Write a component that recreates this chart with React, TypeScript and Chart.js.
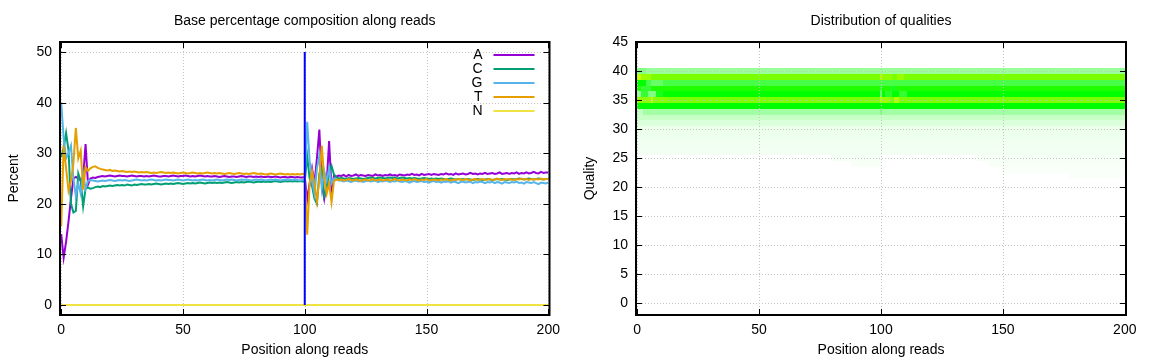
import React, { useEffect, useRef } from 'react';
import { Chart, registerables } from 'chart.js';

Chart.register(...registerables);

// ---------------- data ----------------
const POSITIONS = Array.from({ length: 201 }, (_, i) => i);
const X_TICKS = [0, 50, 100, 150, 200];
const PCT_TICKS = [0, 10, 20, 30, 40, 50];
const QUAL_TICKS = [0, 5, 10, 15, 20, 25, 30, 35, 40, 45];

const LEFT_TITLE = 'Base percentage composition along reads';
const RIGHT_TITLE = 'Distribution of qualities';
const X_LABEL = 'Position along reads';
const LEFT_Y_LABEL = 'Percent';
const RIGHT_Y_LABEL = 'Quality';

const BASES = ['A', 'C', 'G', 'T', 'N'];
const BASE_COLORS = ['#9400d3', '#009e73', '#56b4e9', '#e69f00', '#f0e442'];
const SPLIT_POS = 100;
const SPLIT_RANGE = [0, 50];

const A_PCT = [
  14, 9.3, 12.5, 16.5, 21, 25, 25.3, 25, 24.6, 25.2, 31.8, 23.8, 25, 25.2, 25.1,
  25.3, 25.4, 25.5, 25.4, 25.5, 25.6, 25.5, 25.4, 25.5, 25.6,
  25.5, 25.5, 25.4, 25.5, 25.6, 25.5, 25.4, 25.5, 25.5, 25.4,
  25.5, 25.4, 25.5, 25.6, 25.5, 25.4, 25.4, 25.5, 25.5, 25.4,
  25.5, 25.6, 25.5, 25.4, 25.5, 25.5, 25.6, 25.5, 25.4, 25.5,
  25.4, 25.5, 25.6, 25.5, 25.4, 25.5, 25.4, 25.4, 25.5, 25.4,
  25.3, 25.4, 25.5, 25.4, 25.3, 25.4, 25.4, 25.3, 25.4, 25.5,
  25.4, 25.3, 25.4, 25.4, 25.3, 25.4, 25.3, 25.4, 25.3, 25.3,
  25.4, 25.3, 25.3, 25.4, 25.3, 25.2, 25.3, 25.3, 25.2, 25.3,
  25.3, 25.2, 25.3, 25.2, 25.2,
  25.3, 20.8, 24, 27, 24, 29, 34.7, 24, 21, 24, 32.4, 23, 25.5, 25.4, 25.6,
  25.5, 25.7, 25.4, 25.7, 25.5, 25.6, 25.8, 25.5, 25.7, 25.6,
  25.5, 25.7, 25.6, 25.5, 25.8, 25.6, 25.7, 25.5, 25.7, 25.6,
  25.8, 25.6, 25.7, 25.5, 25.8, 25.7, 25.6, 25.8, 25.7, 25.9,
  25.7, 25.8, 25.6, 25.9, 25.7, 25.8, 25.9, 25.7, 25.9, 25.8,
  25.7, 25.9, 25.8, 26.0, 25.8, 25.9, 25.7, 26.0, 25.8, 25.9,
  26.0, 25.8, 25.9, 26.1, 25.9, 26.0, 25.8, 26.0, 25.9, 26.1,
  25.9, 26.0, 26.1, 25.9, 26.0, 26.2, 25.9, 26.0, 26.1, 25.9,
  26.1, 26.0, 26.2, 25.9, 26.1, 26.0, 26.2, 26.0, 26.1, 26.3,
  26.1, 26.0, 26.3, 26.1, 26.2, 26.2,
];

const C_PCT = [
  29.2, 31, 34, 30.5, 20, 18.3, 18.6, 26, 24.5, 19.5, 23, 23.2, 23, 23.1, 23.3,
  23.4, 23.3, 23.5, 23.4, 23.5, 23.6, 23.5, 23.6, 23.7, 23.6,
  23.7, 23.6, 23.8, 23.7, 23.6, 23.8, 23.7, 23.8, 23.9, 23.8,
  23.8, 23.9, 23.8, 23.9, 24.0, 23.9, 23.8, 23.9, 24.0, 23.9,
  24.0, 23.9, 24.0, 24.1, 24.0, 23.9, 24.0, 24.1, 24.0, 24.1,
  24.0, 24.1, 24.2, 24.1, 24.0, 24.1, 24.2, 24.1, 24.2, 24.1,
  24.2, 24.1, 24.2, 24.3, 24.2, 24.1, 24.2, 24.3, 24.2, 24.3,
  24.2, 24.3, 24.4, 24.3, 24.2, 24.3, 24.4, 24.3, 24.4, 24.3,
  24.4, 24.3, 24.4, 24.5, 24.4, 24.3, 24.4, 24.5, 24.4, 24.5,
  24.4, 24.5, 24.4, 24.5, 24.4,
  24.4, 29.4, 25, 23.5, 21, 20, 26, 27, 21.5, 23, 26, 27.5, 25.8, 25.2, 25,
  25.1, 25.0, 24.9, 25.1, 25.0, 24.9, 25.0, 25.1, 25.0, 24.9,
  25.0, 25.1, 25.2, 25.1, 25.0, 25.1, 25.2, 25.1, 25.0, 25.1,
  25.2, 25.1, 25.2, 25.0, 25.1, 25.2, 25.1, 25.0, 25.1, 25.0,
  25.1, 25.0, 24.9, 25.0, 25.1, 25.0, 24.9, 25.0, 24.9, 25.0,
  24.9, 25.0, 24.9, 24.8, 24.9, 25.0, 24.9, 24.8, 24.9, 24.8,
  24.9, 24.8, 24.9, 24.8, 24.7, 24.8, 24.9, 24.8, 24.7, 24.8,
  24.9, 24.8, 24.7, 24.8, 24.9, 24.8, 24.9, 24.8, 24.7, 24.8,
  24.9, 24.8, 24.9, 25.0, 24.9, 24.8, 24.9, 25.0, 24.9, 24.8,
  24.9, 25.0, 24.9, 24.8, 24.9, 24.9,
];

const G_PCT = [
  40, 33, 29, 30, 31.5, 25, 21.5, 24, 22, 26, 23, 24.5, 24.7, 24.6, 24.5,
  24.4, 24.5, 24.6, 24.5, 24.6, 24.7, 24.6, 24.5, 24.6, 24.7,
  24.6, 24.7, 24.6, 24.5, 24.6, 24.7, 24.8, 24.7, 24.6, 24.7,
  24.6, 24.7, 24.8, 24.7, 24.6, 24.7, 24.6, 24.7, 24.8, 24.7,
  24.7, 24.6, 24.7, 24.8, 24.7, 24.6, 24.7, 24.8, 24.7, 24.6,
  24.7, 24.6, 24.7, 24.8, 24.7, 24.6, 24.7, 24.6, 24.7, 24.8,
  24.7, 24.6, 24.7, 24.8, 24.7, 24.8, 24.7, 24.6, 24.7, 24.8,
  24.7, 24.8, 24.7, 24.6, 24.7, 24.8, 24.7, 24.8, 24.7, 24.6,
  24.7, 24.8, 24.7, 24.8, 24.7, 24.6, 24.7, 24.8, 24.7, 24.8,
  24.7, 24.8, 24.7, 24.6, 24.7,
  24.7, 36.2, 28.5, 24.5, 22, 27, 29.5, 23, 26.5, 24.5, 27, 24, 25, 24.8, 24.6,
  24.6, 24.4, 24.6, 24.5, 24.3, 24.5, 24.6, 24.4, 24.5, 24.3,
  24.5, 24.6, 24.4, 24.5, 24.6, 24.3, 24.5, 24.4, 24.6, 24.5,
  24.3, 24.5, 24.4, 24.6, 24.4, 24.3, 24.5, 24.4, 24.2, 24.4,
  24.5, 24.3, 24.4, 24.5, 24.3, 24.4, 24.2, 24.4, 24.5, 24.3,
  24.4, 24.2, 24.4, 24.3, 24.5, 24.2, 24.4, 24.3, 24.1, 24.3,
  24.4, 24.2, 24.3, 24.4, 24.1, 24.3, 24.2, 24.4, 24.3, 24.1,
  24.3, 24.2, 24.4, 24.1, 24.3, 24.2, 24.0, 24.3, 24.2, 24.1,
  24.3, 24.2, 24.4, 24.1, 24.2, 24.0, 24.3, 24.2, 24.1, 24.3,
  24.1, 23.9, 24.2, 24.1, 24.0, 24.2,
];

const T_PCT = [
  15.5, 31.5, 27, 22.6, 24.5, 28, 35, 29, 30.5, 22.8, 27.2, 26.5, 27, 27.3, 27.4,
  27.1, 26.9, 26.8, 26.7, 26.6, 26.7, 26.5, 26.6, 26.5, 26.4,
  26.5, 26.4, 26.3, 26.4, 26.3, 26.4, 26.3, 26.2, 26.3, 26.2,
  26.3, 26.2, 26.1, 26.2, 26.1, 26.2, 26.3, 26.2, 26.1, 26.2,
  26.1, 26.2, 26.1, 26.0, 26.1, 26.2, 26.1, 26.0, 26.1, 26.2,
  26.1, 26.0, 26.1, 26.0, 26.1, 26.2, 26.1, 26.0, 26.1, 26.0,
  26.1, 26.0, 25.9, 26.0, 26.1, 26.0, 25.9, 26.0, 26.1, 26.0,
  25.9, 26.0, 25.9, 26.0, 26.1, 26.0, 25.9, 26.0, 25.9, 25.8,
  25.9, 26.0, 25.9, 25.8, 25.9, 26.0, 25.9, 25.8, 25.9, 25.8,
  25.9, 25.8, 25.9, 25.8, 25.9,
  26, 13.9, 24, 26.5, 24, 20.5, 25, 31.5, 25, 22, 24, 20.3, 24.5, 24.8, 24.7,
  24.8, 24.6, 24.7, 24.9, 24.7, 24.6, 24.8, 24.7, 24.5, 24.7,
  24.8, 24.6, 24.7, 24.9, 24.6, 24.7, 24.8, 24.6, 24.7, 24.8,
  24.6, 24.7, 24.9, 24.7, 24.6, 24.8, 24.7, 24.6, 24.8, 24.7,
  24.9, 24.7, 24.6, 24.8, 24.7, 24.9, 24.6, 24.7, 24.8, 24.7,
  24.6, 24.8, 24.7, 24.9, 24.7, 24.6, 24.8, 24.7, 24.9, 24.8,
  24.7, 24.9, 24.8, 24.6, 24.8, 24.9, 24.7, 24.8, 24.9, 24.7,
  24.8, 24.9, 24.7, 24.8, 25.0, 24.8, 24.7, 24.9, 24.8, 24.9,
  24.8, 24.7, 24.9, 24.8, 25.0, 24.8, 24.9, 24.7, 24.9, 24.8,
  24.9, 24.8, 25.0, 24.8, 24.9, 24.9,
];

const N_PCT = [
  0, 0, 0, 0, 0, 0, 0, 0, 0, 0, 0, 0, 0, 0, 0, 0, 0, 0, 0, 0,
  0, 0, 0, 0, 0, 0, 0, 0, 0, 0, 0, 0, 0, 0, 0, 0, 0, 0, 0, 0,
  0, 0, 0, 0, 0, 0, 0, 0, 0, 0, 0, 0, 0, 0, 0, 0, 0, 0, 0, 0,
  0, 0, 0, 0, 0, 0, 0, 0, 0, 0, 0, 0, 0, 0, 0, 0, 0, 0, 0, 0,
  0, 0, 0, 0, 0, 0, 0, 0, 0, 0, 0, 0, 0, 0, 0, 0, 0, 0, 0, 0,
  0, 0, 0, 0, 0, 0, 0, 0, 0, 0, 0, 0, 0, 0, 0, 0, 0, 0, 0, 0,
  0, 0, 0, 0, 0, 0, 0, 0, 0, 0, 0, 0, 0, 0, 0, 0, 0, 0, 0, 0,
  0, 0, 0, 0, 0, 0, 0, 0, 0, 0, 0, 0, 0, 0, 0, 0, 0, 0, 0, 0,
  0, 0, 0, 0, 0, 0, 0, 0, 0, 0, 0, 0, 0, 0, 0, 0, 0, 0, 0, 0,
  0, 0, 0, 0, 0, 0, 0, 0, 0, 0, 0, 0, 0, 0, 0, 0, 0, 0, 0, 0,
  0,
];

const BASE_SERIES = [A_PCT, C_PCT, G_PCT, T_PCT, N_PCT];

// Heatmap: run-length cells [quality, fromPos, toPos, level 0..1]; later runs override earlier ones
const HEAT_RUNS: number[][] = [
  [40, 0, 200, 0.2], [39, 0, 200, 0.74], [38, 0, 200, 0.36], [37, 0, 200, 0.56],
  [36, 0, 200, 0.5], [35, 0, 200, 0.74], [34, 0, 200, 0.5], [33, 0, 200, 0.18],
  [32, 0, 200, 0.11], [31, 0, 200, 0.07], [30, 0, 200, 0.04], [29, 0, 200, 0.035],
  [28, 0, 200, 0.03], [27, 0, 200, 0.03], [26, 0, 200, 0.025],
  [25, 80, 100, 0.02], [25, 140, 200, 0.02], [24, 88, 100, 0.015], [24, 145, 200, 0.015],
  [23, 150, 200, 0.012], [22, 177, 200, 0.01],
  // start-of-read irregularities
  [40, 0, 3, 0.25], [39, 0, 1, 0.88], [39, 2, 5, 0.8], [38, 0, 3, 0.5], [38, 6, 10, 0.3],
  [37, 2, 5, 0.4], [36, 0, 1, 0.2], [36, 2, 4, 0.4], [36, 5, 7, 0.25], [36, 8, 10, 0.45],
  [35, 0, 5, 0.78], [35, 6, 6, 0.88], [35, 7, 12, 0.76], [33, 0, 2, 0.12],
  // second-read start irregularities
  [39, 100, 100, 0.85], [39, 101, 104, 0.78], [39, 107, 109, 0.8], [37, 100, 100, 0.4],
  [37, 104, 106, 0.45], [36, 100, 100, 0.3], [36, 102, 104, 0.42], [36, 108, 110, 0.4],
  [35, 100, 100, 0.85], [35, 101, 103, 0.8], [35, 106, 107, 0.85], [33, 100, 100, 0.25],
];

// ---------------- helpers ----------------
const FONT = "'Liberation Sans', Arial, Helvetica, sans-serif";
const FS = 14;

function heatColor(t: number) {
  if (t <= 0.5) {
    const v = Math.round(255 * (1 - t / 0.5));
    return `rgb(${v},255,${v})`;
  }
  const r = Math.round((255 * (t - 0.5)) / 0.5);
  return `rgb(${r},255,0)`;
}

function drawGrid(chart: any) {
  const { ctx, chartArea: ca, scales } = chart;
  const x = scales.x, y = scales.y;
  ctx.save();
  ctx.strokeStyle = '#c4c4c4';
  ctx.lineWidth = 1;
  ctx.setLineDash([1, 2]);
  for (const t of x.ticks) {
    const px = Math.round(x.getPixelForValue(t.value)) + 0.5;
    ctx.beginPath(); ctx.moveTo(px, ca.top); ctx.lineTo(px, ca.bottom); ctx.stroke();
  }
  for (const t of y.ticks) {
    const py = Math.round(y.getPixelForValue(t.value)) + 0.5;
    ctx.beginPath(); ctx.moveTo(ca.left, py); ctx.lineTo(ca.right, py); ctx.stroke();
  }
  ctx.restore();
}

function drawFrame(chart: any) {
  const { ctx, chartArea: ca, scales } = chart;
  const x = scales.x, y = scales.y;
  ctx.save();
  ctx.strokeStyle = '#000';
  ctx.lineWidth = 1;
  const tl = 6;
  for (const t of x.ticks) {
    const px = Math.round(x.getPixelForValue(t.value)) + 0.5;
    ctx.beginPath();
    ctx.moveTo(px, ca.bottom); ctx.lineTo(px, ca.bottom - tl);
    ctx.moveTo(px, ca.top); ctx.lineTo(px, ca.top + tl);
    ctx.stroke();
  }
  for (const t of y.ticks) {
    const py = Math.round(y.getPixelForValue(t.value)) + 0.5;
    ctx.beginPath();
    ctx.moveTo(ca.left, py); ctx.lineTo(ca.left + tl, py);
    ctx.moveTo(ca.right, py); ctx.lineTo(ca.right - tl, py);
    ctx.stroke();
  }
  ctx.lineWidth = 2;
  ctx.strokeRect(ca.left, ca.top, ca.right - ca.left, ca.bottom - ca.top);
  ctx.restore();
}

const lineChartPlugin = {
  id: 'lineDecor',
  beforeDatasetsDraw(chart: any) { drawGrid(chart); },
  afterDatasetsDraw(chart: any) {
    const { ctx, chartArea: ca } = chart;
    ctx.save();
    ctx.font = `${FS}px ${FONT}`;
    ctx.textAlign = 'right';
    ctx.textBaseline = 'middle';
    ctx.lineWidth = 2;
    BASES.forEach((b, i) => {
      const yy = ca.top + 13 + i * 14;
      ctx.fillStyle = '#000';
      ctx.fillText(b, ca.right - 67, yy);
      ctx.strokeStyle = BASE_COLORS[i];
      ctx.beginPath(); ctx.moveTo(ca.right - 56, yy); ctx.lineTo(ca.right - 15, yy); ctx.stroke();
    });
    ctx.restore();
  },
  afterDraw(chart: any) { drawFrame(chart); },
};

const heatPlugin = {
  id: 'heatDecor',
  beforeDatasetsDraw(chart: any) {
    const { ctx, chartArea: ca, scales } = chart;
    const x = scales.x, y = scales.y;
    const cells = new Map<string, number>();
    for (const [q, from, to, lvl] of HEAT_RUNS) {
      for (let p = from; p <= to; p++) cells.set(q + ':' + p, lvl);
    }
    ctx.save();
    ctx.beginPath(); ctx.rect(ca.left, ca.top, ca.right - ca.left, ca.bottom - ca.top); ctx.clip();
    cells.forEach((lvl, key) => {
      if (lvl <= 0) return;
      const [q, p] = key.split(':').map(Number);
      const x0 = Math.round(x.getPixelForValue(p - 0.5));
      const x1 = Math.round(x.getPixelForValue(p + 0.5));
      const y0 = Math.round(y.getPixelForValue(q + 0.5));
      const y1 = Math.round(y.getPixelForValue(q - 0.5));
      ctx.fillStyle = heatColor(lvl);
      ctx.fillRect(x0, y0, x1 - x0, y1 - y0);
    });
    ctx.restore();
    drawGrid(chart);
  },
  afterDraw(chart: any) { drawFrame(chart); },
};

function axisCommon(min: number, max: number, ticks: number[], title: string, isX: boolean) {
  return {
    type: 'linear',
    min,
    max,
    afterBuildTicks: (s: any) => { s.ticks = ticks.map((v) => ({ value: v })); },
    afterFit: (s: any) => { if (isX) s.height = 45; else s.width = 60; },
    grid: { display: false, drawTicks: false },
    border: { display: false },
    ticks: {
      color: '#000',
      font: { family: FONT, size: FS },
      padding: isX ? 7 : 8,
      maxRotation: 0,
      autoSkip: false,
    },
    title: {
      display: true,
      text: title,
      color: '#000',
      font: { family: FONT, size: FS },
      padding: isX ? { top: 0, bottom: 1 } : { top: 6, bottom: 0 },
    },
  };
}

function baseOptions(title: string, rightPad: number) {
  return {
    responsive: false,
    animation: false,
    devicePixelRatio: 1,
    layout: { padding: { left: 0, right: rightPad, top: 0, bottom: 0 } },
    plugins: {
      legend: { display: false },
      tooltip: { enabled: false },
      title: {
        display: true,
        fullSize: false,
        text: title,
        color: '#000',
        font: { family: FONT, size: FS, weight: 'normal' },
        padding: { top: 13, bottom: 12.2 },
      },
    },
  };
}

export default function App() {
  const leftRef = useRef<HTMLCanvasElement>(null);
  const rightRef = useRef<HTMLCanvasElement>(null);

  useEffect(() => {
    const lineDatasets: any[] = BASES.map((b, i) => ({
      label: b,
      data: POSITIONS.map((p, k) => ({ x: p, y: BASE_SERIES[i][k] })),
      borderColor: BASE_COLORS[i],
      backgroundColor: BASE_COLORS[i],
      borderWidth: 2,
      pointRadius: 0,
      tension: 0,
      fill: false,
      order: 10 - i,
    }));
    lineDatasets.push({
      label: 'split',
      data: [{ x: SPLIT_POS, y: SPLIT_RANGE[0] }, { x: SPLIT_POS, y: SPLIT_RANGE[1] }],
      borderColor: '#0000ff',
      borderWidth: 2,
      pointRadius: 0,
      fill: false,
      order: 0,
    });

    const left = new Chart(leftRef.current as HTMLCanvasElement, {
      type: 'line',
      data: { datasets: lineDatasets },
      options: {
        ...baseOptions(LEFT_TITLE, 26.5),
        scales: {
          x: axisCommon(-0.5, 200.5, X_TICKS, X_LABEL, true),
          y: axisCommon(-2, 52, PCT_TICKS, LEFT_Y_LABEL, false),
        },
      } as any,
      plugins: [lineChartPlugin],
    });

    const right = new Chart(rightRef.current as HTMLCanvasElement, {
      type: 'scatter',
      data: { datasets: [{ label: 'q', data: [], pointRadius: 0 }] },
      options: {
        ...baseOptions(RIGHT_TITLE, 26),
        scales: {
          x: axisCommon(-0.5, 200.5, X_TICKS, X_LABEL, true),
          y: axisCommon(-2, 45, QUAL_TICKS, RIGHT_Y_LABEL, false),
        },
      } as any,
      plugins: [heatPlugin],
    });

    return () => {
      left.destroy();
      right.destroy();
    };
  }, []);

  return (
    <div style={{ position: 'fixed', left: 0, top: 0, width: 1152, height: 360, display: 'flex', background: '#fff' }}>
      <canvas ref={leftRef} width={576} height={360} style={{ display: 'block', width: 576, height: 360 }} />
      <canvas ref={rightRef} width={576} height={360} style={{ display: 'block', width: 576, height: 360 }} />
    </div>
  );
}
